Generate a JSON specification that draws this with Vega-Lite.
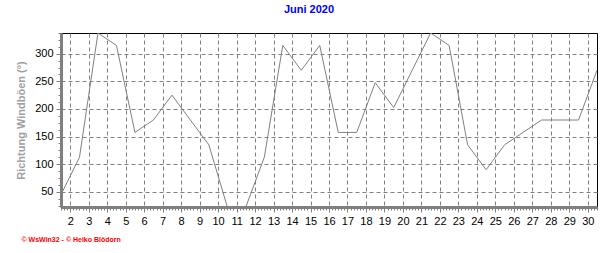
{
  "$schema": "https://vega.github.io/schema/vega-lite/v6.json",
  "autosize": "none",
  "width": 536,
  "height": 174,
  "padding": {"left": 61, "top": 33, "right": 19, "bottom": 46},
  "background": "white",
  "title": {
    "text": "Juni 2020",
    "color": "#0000ff",
    "font": "Liberation Sans",
    "fontSize": 11,
    "fontWeight": "bold",
    "anchor": "middle",
    "baseline": "alphabetic",
    "offset": 9,
    "dx": -20
  },
  "config": {
    "view": {"stroke": "#000000", "strokeWidth": 1},
    "axis": {
      "labelFont": "Liberation Sans",
      "titleFont": "Liberation Sans"
    }
  },
  "data": {
    "values": [
      {"day": 1.5, "dir": 45},
      {"day": 2.5, "dir": 112.5},
      {"day": 3.5, "dir": 337.5},
      {"day": 4.5, "dir": 315},
      {"day": 5.5, "dir": 157.5},
      {"day": 6.5, "dir": 180},
      {"day": 7.5, "dir": 225},
      {"day": 8.5, "dir": 180},
      {"day": 9.5, "dir": 135},
      {"day": 10.5, "dir": 22.5},
      {"day": 11.5, "dir": 22.5},
      {"day": 12.5, "dir": 112.5},
      {"day": 13.5, "dir": 315},
      {"day": 14.5, "dir": 270},
      {"day": 15.5, "dir": 315},
      {"day": 16.5, "dir": 157.5},
      {"day": 17.5, "dir": 157.5},
      {"day": 18.5, "dir": 247.5},
      {"day": 19.5, "dir": 202.5},
      {"day": 20.5, "dir": 270},
      {"day": 21.5, "dir": 337.5},
      {"day": 22.5, "dir": 315},
      {"day": 23.5, "dir": 135},
      {"day": 24.5, "dir": 90},
      {"day": 25.5, "dir": 135},
      {"day": 26.5, "dir": 157.5},
      {"day": 27.5, "dir": 180},
      {"day": 28.5, "dir": 180},
      {"day": 29.5, "dir": 180},
      {"day": 30.5, "dir": 270}
    ]
  },
  "resolve": {"axis": {"x": "independent", "y": "independent"}},
  "layer": [
    {
      "mark": {"type": "line", "opacity": 0},
      "encoding": {
        "x": {
          "field": "day",
          "type": "quantitative",
          "scale": {"domain": [1.5, 30.5], "nice": false, "zero": false},
          "axis": {
            "orient": "bottom",
            "values": [1.5,1.667,1.833,2,2.167,2.333,2.5,2.667,2.833,3,3.167,3.333,3.5,3.667,3.833,4,4.167,4.333,4.5,4.667,4.833,5,5.167,5.333,5.5,5.667,5.833,6,6.167,6.333,6.5,6.667,6.833,7,7.167,7.333,7.5,7.667,7.833,8,8.167,8.333,8.5,8.667,8.833,9,9.167,9.333,9.5,9.667,9.833,10,10.167,10.333,10.5,10.667,10.833,11,11.167,11.333,11.5,11.667,11.833,12,12.167,12.333,12.5,12.667,12.833,13,13.167,13.333,13.5,13.667,13.833,14,14.167,14.333,14.5,14.667,14.833,15,15.167,15.333,15.5,15.667,15.833,16,16.167,16.333,16.5,16.667,16.833,17,17.167,17.333,17.5,17.667,17.833,18,18.167,18.333,18.5,18.667,18.833,19,19.167,19.333,19.5,19.667,19.833,20,20.167,20.333,20.5,20.667,20.833,21,21.167,21.333,21.5,21.667,21.833,22,22.167,22.333,22.5,22.667,22.833,23,23.167,23.333,23.5,23.667,23.833,24,24.167,24.333,24.5,24.667,24.833,25,25.167,25.333,25.5,25.667,25.833,26,26.167,26.333,26.5,26.667,26.833,27,27.167,27.333,27.5,27.667,27.833,28,28.167,28.333,28.5,28.667,28.833,29,29.167,29.333,29.5,29.667,29.833,30,30.167,30.333,30.5],
            "grid": false,
            "domain": false,
            "labels": false,
            "ticks": true,
            "tickColor": "#808080",
            "tickSize": 3,
            "title": null
          }
        },
        "y": {
          "field": "dir",
          "type": "quantitative",
          "scale": {"domain": [22.5, 337.5], "nice": false, "zero": false},
          "axis": {
            "orient": "left",
            "values": [25, 37.5, 50, 62.5, 75, 87.5, 100, 112.5, 125, 137.5, 150, 162.5, 175, 187.5, 200, 212.5, 225, 237.5, 250, 262.5, 275, 287.5, 300, 312.5, 325, 337.5],
            "grid": false,
            "domain": false,
            "labels": false,
            "ticks": true,
            "tickColor": "#808080",
            "tickSize": 3,
            "title": null
          }
        }
      }
    },
    {
      "mark": {"type": "line", "color": "#808080", "strokeWidth": 1, "clip": true},
      "encoding": {
        "x": {
          "field": "day",
          "type": "quantitative",
          "scale": {"domain": [1.5, 30.5], "nice": false, "zero": false},
          "axis": {
            "orient": "bottom",
            "values": [2,3,4,5,6,7,8,9,10,11,12,13,14,15,16,17,18,19,20,21,22,23,24,25,26,27,28,29,30],
            "grid": true,
            "gridColor": "#808080",
            "gridDash": [4, 3],
            "gridOpacity": 1,
            "domainColor": "#808080",
            "domainWidth": 3,
            "tickColor": "#808080",
            "tickSize": 5,
            "labelColor": "#000000",
            "labelFontSize": 11,
            "labelPadding": 3,
            "labelFlush": false,
            "title": "\u00a9 WsWin32 - \u00a9 Heiko Bl\u00f6dorn",
            "titleColor": "#ff0000",
            "titleFont": "Liberation Sans",
            "titleFontSize": 7,
            "titleFontWeight": "bold",
            "titleAnchor": "start",
            "titleAlign": "left",
            "titleBaseline": "alphabetic",
            "titleX": -40,
            "titleY": 34
          }
        },
        "y": {
          "field": "dir",
          "type": "quantitative",
          "scale": {"domain": [22.5, 337.5], "nice": false, "zero": false},
          "axis": {
            "orient": "left",
            "values": [50, 100, 150, 200, 250, 300],
            "grid": true,
            "gridColor": "#808080",
            "gridDash": [4, 3],
            "gridOpacity": 1,
            "domainColor": "#808080",
            "domainWidth": 3,
            "tickColor": "#808080",
            "tickSize": 5,
            "labelColor": "#000000",
            "labelFontSize": 11,
            "labelPadding": 3,
            "labelFlush": false,
            "title": "Richtung Windb\u00f6en (\u00b0)",
            "titleColor": "#a0a0a0",
            "titleFontSize": 11,
            "titleFontWeight": "bold",
            "titlePadding": 8
          }
        }
      }
    }
  ]
}
